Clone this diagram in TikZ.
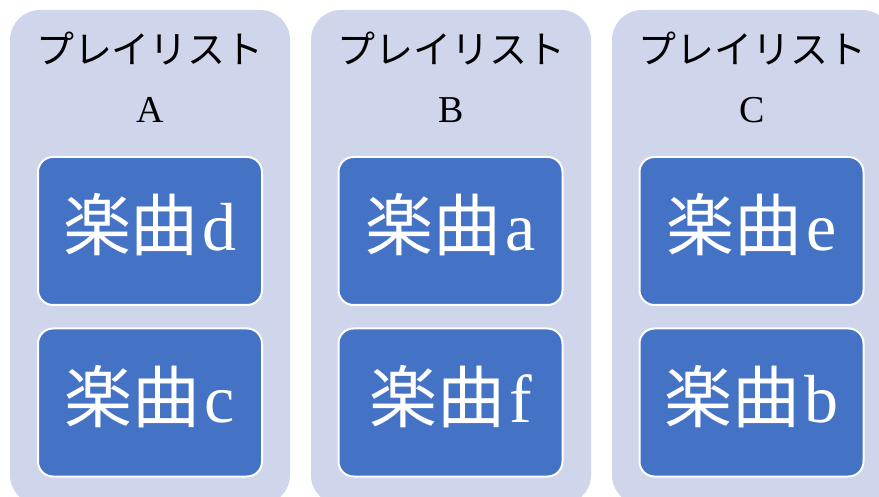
\documentclass[tikz,border=0pt]{standalone}
\usepackage{fontspec}
\setmainfont{Liberation Serif}
\newfontfamily\cjk{Noto Sans CJK JP}
\definecolor{outerfill}{HTML}{CFD5EA}
\definecolor{innerfill}{HTML}{4472C4}
\begin{document}
\begin{tikzpicture}[x=1pt,y=-1pt,
  panel/.style={fill=outerfill,draw=none,rounded corners=30pt,minimum width=280pt,minimum height=495pt,inner sep=0pt},
  ttl/.style={inner sep=0pt,font=\fontsize{38}{44}\selectfont},
  song/.style={fill=innerfill,draw=white,line width=2pt,rounded corners=15pt,minimum width=224pt,minimum height=148pt,inner sep=0pt},
  songtxt/.style={inner sep=0pt,text=white,font=\fontsize{68}{80}\selectfont,yshift=6pt}]
\useasboundingbox (0,0) rectangle (879,497);
\clip (0,0) rectangle (879,497);
\node[panel] (pA) at (150,257.5) {};
\node[panel] (pB) at (451,257.5) {};
\node[panel] (pC) at (752,257.5) {};
\node[ttl] (tA1) at (150,48) {\cjk プレイリスト};
\node[ttl] (tA2) at (150,110) {A};
\node[ttl] (tB1) at (451,48) {\cjk プレイリスト};
\node[ttl] (tB2) at (451,110) {B};
\node[ttl] (tC1) at (752,48) {\cjk プレイリスト};
\node[ttl] (tC2) at (752,110) {C};
\node[song] (sA1) at (150,231) {};
\node[song] (sA2) at (150,402.5) {};
\node[song] (sB1) at (450.5,231) {};
\node[song] (sB2) at (450.5,402.5) {};
\node[song] (sC1) at (751.5,231) {};
\node[song] (sC2) at (751.5,402.5) {};
\node[songtxt] (xA1) at (sA1) {{\cjk 楽曲}\kern4pt d};
\node[songtxt] (xA2) at (sA2) {{\cjk 楽曲}\kern4pt c};
\node[songtxt] (xB1) at (sB1) {{\cjk 楽曲}\kern4pt a};
\node[songtxt] (xB2) at (sB2) {{\cjk 楽曲}\kern4pt f};
\node[songtxt] (xC1) at (sC1) {{\cjk 楽曲}\kern4pt e};
\node[songtxt] (xC2) at (sC2) {{\cjk 楽曲}\kern4pt b};
\end{tikzpicture}
\end{document}
